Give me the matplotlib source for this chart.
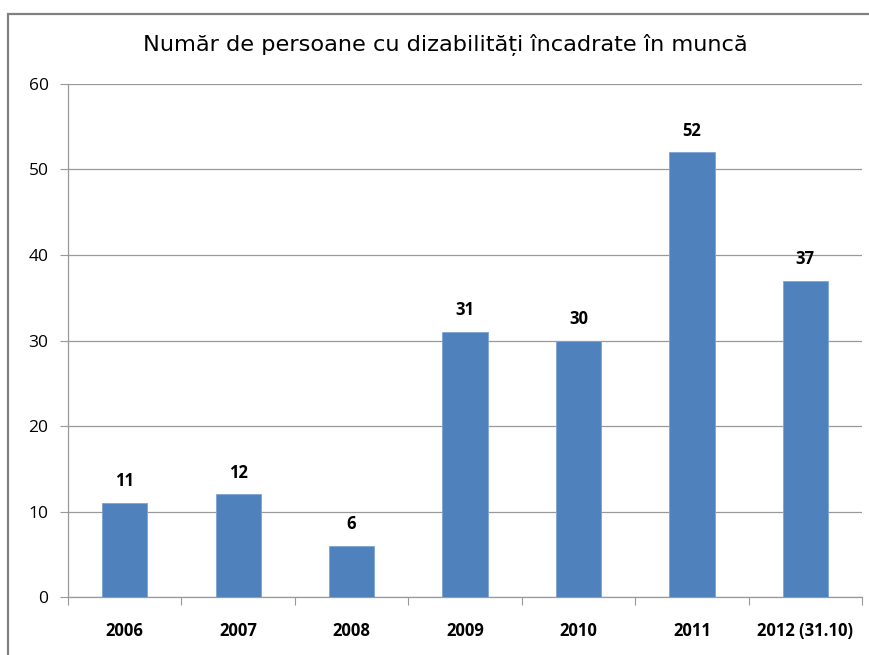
import matplotlib.pyplot as plt
from matplotlib.patches import Rectangle

# Number of persons with disabilities in employment, per year
years = ["2006", "2007", "2008", "2009", "2010", "2011", "2012 (31.10)"]
persons = [11, 12, 6, 31, 30, 52, 37]

bar_color = "#4F81BD"
grid_color = "#999999"

fig = plt.figure(figsize=(8.69, 6.55), dpi=100)
ax = fig.add_axes([0.0783, 0.0885, 0.9137, 0.7833])

x = list(range(len(years)))
bars = ax.bar(x, persons, width=0.4, color=bar_color, edgecolor="#7FA3D3",
              linewidth=0.6, zorder=3)

ax.set_xlim(-0.5, len(years) - 0.5)
ax.set_ylim(0, 60)
ax.set_yticks(range(0, 61, 10))
ax.yaxis.grid(True, color=grid_color, linewidth=0.9, zorder=0)

# category ticks sit between the bars
ax.set_xticks([i - 0.5 for i in range(len(years) + 1)])
ax.set_xticklabels([])
ax.set_xticks(x, minor=True)
ax.set_xticklabels(years, minor=True, fontsize=12, fontweight="bold",
                   family="Open Sans")
ax.tick_params(axis="x", which="minor", length=0, pad=18)
ax.tick_params(axis="x", which="major", length=6, color=grid_color)
ax.tick_params(axis="y", length=6, color=grid_color, labelsize=12.5, pad=8)
for lbl in ax.get_yticklabels():
    lbl.set_family("Open Sans")

for side in ["top", "right"]:
    ax.spines[side].set_visible(False)
for side in ["left", "bottom"]:
    ax.spines[side].set_color(grid_color)
    ax.spines[side].set_linewidth(0.9)

# value labels above each bar
for xi, v in zip(x, persons):
    ax.annotate(str(v), xy=(xi, v), xytext=(0, 9), textcoords="offset points",
                ha="center", va="bottom", fontsize=12, fontweight="bold",
                family="Open Sans")

fig.text(0.512, 0.931, "Număr de persoane cu dizabilități încadrate în muncă",
         ha="center", va="center", fontsize=16.2, family="DejaVu Sans",
         fontweight="medium")

# outer chart frame
fig.patches.append(Rectangle((8 / 869, -0.1), 1.2, 1.1 - 14 / 655,
                             transform=fig.transFigure, fill=False,
                             edgecolor="#808080", linewidth=1.6))

plt.savefig("out.png", dpi=100)
plt.close()
